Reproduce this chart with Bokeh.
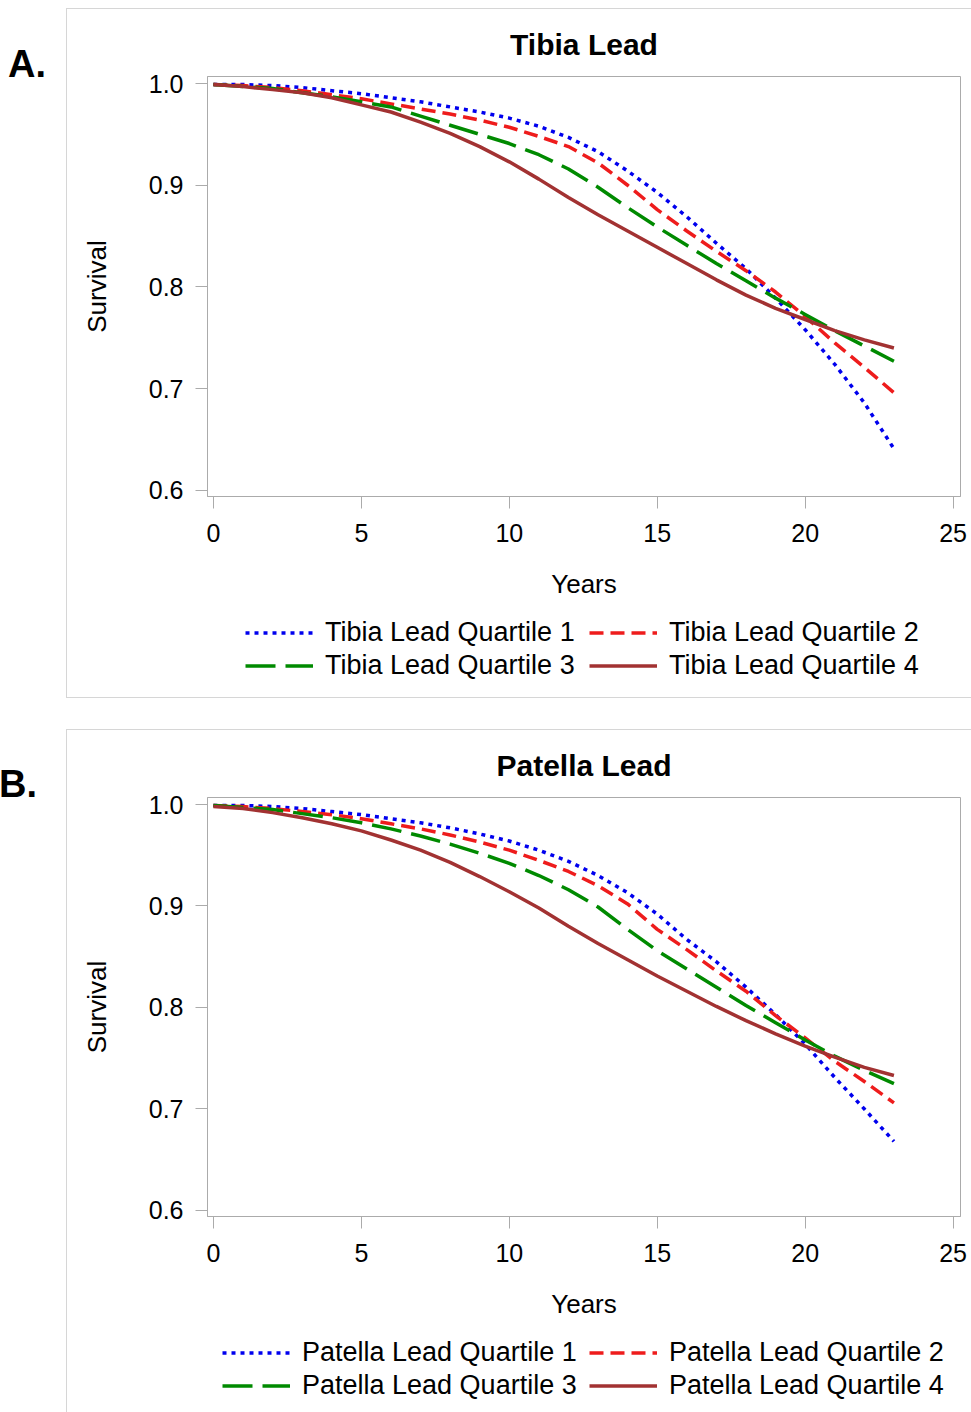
from bokeh.plotting import figure
from bokeh.models import (Range1d, FixedTicker, NumeralTickFormatter, Legend, LegendItem,
                          Spacer, Div)
from bokeh.layouts import row, column
from bokeh.embed import file_html
from bokeh.resources import INLINE

# ---------------- data ----------------
years = list(range(24))

tibia_q1 = [0.999, 0.999, 0.998, 0.996, 0.993, 0.990, 0.986, 0.982, 0.977, 0.972, 0.966, 0.958,
            0.947, 0.933, 0.914, 0.893, 0.869, 0.843, 0.818, 0.789, 0.758, 0.724, 0.686, 0.641]
tibia_q2 = [0.999, 0.998, 0.996, 0.993, 0.989, 0.985, 0.980, 0.975, 0.970, 0.964, 0.957, 0.948,
            0.938, 0.922, 0.900, 0.876, 0.855, 0.835, 0.816, 0.795, 0.771, 0.745, 0.721, 0.696]
tibia_q3 = [0.999, 0.997, 0.995, 0.991, 0.987, 0.982, 0.977, 0.968, 0.959, 0.950, 0.941, 0.930,
            0.916, 0.898, 0.878, 0.859, 0.841, 0.823, 0.806, 0.789, 0.773, 0.757, 0.742, 0.727]
tibia_q4 = [0.999, 0.997, 0.994, 0.991, 0.986, 0.979, 0.972, 0.962, 0.951, 0.938, 0.923, 0.906,
            0.888, 0.871, 0.855, 0.839, 0.823, 0.807, 0.792, 0.779, 0.768, 0.757, 0.748, 0.740]

patella_q1 = [0.999, 0.999, 0.998, 0.996, 0.993, 0.990, 0.986, 0.982, 0.977, 0.971, 0.964, 0.955,
              0.944, 0.930, 0.913, 0.892, 0.867, 0.845, 0.820, 0.793, 0.764, 0.731, 0.700, 0.668]
patella_q2 = [0.999, 0.998, 0.996, 0.993, 0.990, 0.986, 0.981, 0.976, 0.970, 0.963, 0.955, 0.945,
              0.934, 0.920, 0.902, 0.877, 0.857, 0.836, 0.816, 0.792, 0.770, 0.747, 0.727, 0.706]
patella_q3 = [0.999, 0.997, 0.995, 0.991, 0.987, 0.982, 0.976, 0.969, 0.961, 0.952, 0.942, 0.930,
              0.916, 0.899, 0.877, 0.856, 0.838, 0.820, 0.802, 0.785, 0.768, 0.752, 0.738, 0.725]
patella_q4 = [0.998, 0.996, 0.992, 0.987, 0.981, 0.974, 0.965, 0.955, 0.943, 0.929, 0.914, 0.898,
              0.880, 0.863, 0.847, 0.831, 0.816, 0.801, 0.787, 0.774, 0.762, 0.751, 0.741, 0.733]

tibia_names = ["Tibia Lead Quartile 1", "Tibia Lead Quartile 2",
               "Tibia Lead Quartile 3", "Tibia Lead Quartile 4"]
patella_names = ["Patella Lead Quartile 1", "Patella Lead Quartile 2",
                 "Patella Lead Quartile 3", "Patella Lead Quartile 4"]

x_ticks = [0, 5, 10, 15, 20, 25]
y_ticks = [0.6, 0.7, 0.8, 0.9, 1.0]

# ---------------- style ----------------
FONT = "Liberation Sans"
COLORS = ["#0000EE", "#EE1C1C", "#008A00", "#A23232"]
DASHES = ["4 5", "14 7", "30 10", "solid"]
FRAME_GRAY = "#ababab"
PANEL_GRAY = "#d6d6d6"


def make_plot(title, series, height, frame_h):
    p = figure(width=904, height=height, output_backend="svg", toolbar_location=None,
               x_range=Range1d(-0.2, 25.25), y_range=Range1d(0.594, 1.0069),
               min_border_left=140, min_border_right=11, min_border_top=67,
               min_border_bottom=height - 67 - frame_h, title=title)
    p.background_fill_color = "white"
    p.border_fill_color = "white"
    p.outline_line_color = FRAME_GRAY
    p.outline_line_width = 1
    p.grid.visible = False

    p.title.align = "center"
    p.title.text_font = FONT
    p.title.text_font_size = "30px"
    p.title.text_font_style = "bold"
    p.title.text_color = "black"
    p.title.standoff = 31

    for ax in (p.xaxis[0], p.yaxis[0]):
        ax.axis_line_color = FRAME_GRAY
        ax.major_tick_line_color = FRAME_GRAY
        ax.major_tick_out = 12
        ax.major_tick_in = 0
        ax.minor_tick_line_color = None
        ax.major_label_text_font = FONT
        ax.major_label_text_font_size = "25px"
        ax.major_label_text_color = "black"
        ax.axis_label_text_font = FONT
        ax.axis_label_text_font_size = "26px"
        ax.axis_label_text_font_style = "normal"
        ax.axis_label_text_color = "black"

    p.xaxis.ticker = FixedTicker(ticks=x_ticks)
    p.yaxis.ticker = FixedTicker(ticks=y_ticks)
    p.yaxis.formatter = NumeralTickFormatter(format="0.0")
    p.xaxis.axis_label = "Years"
    p.yaxis.axis_label = "Survival"
    p.xaxis.major_label_standoff = 15
    p.yaxis.major_label_standoff = 12
    p.xaxis.axis_label_standoff = 24
    p.yaxis.axis_label_standoff = 34

    for ys, c, d in zip(series, COLORS, DASHES):
        p.line(years, ys, line_color=c, line_width=3.5, line_dash=d, line_join="round")
    return p


def make_legend(names, series, height, loc, label_width):
    # legend strip below the plot; its lines lie outside the (empty) view on purpose
    f = figure(width=904, height=height, output_backend="svg", toolbar_location=None,
               x_range=Range1d(100, 101), y_range=Range1d(100, 101),
               min_border_left=140, min_border_top=0, min_border_right=11,
               min_border_bottom=0)
    f.xaxis.visible = False
    f.yaxis.visible = False
    f.grid.visible = False
    f.outline_line_color = None
    f.background_fill_color = "white"
    f.border_fill_color = "white"
    items = []
    for name, ys, c, d in zip(names, series, COLORS, DASHES):
        r = f.line(years, ys, line_color=c, line_width=3.5, line_dash=d)
        items.append(LegendItem(label=name, renderers=[r]))
    leg = Legend(items=items, location=loc, orientation="horizontal", ncols=2,
                 glyph_width=68, glyph_height=31, label_height=31, label_width=label_width,
                 label_standoff=12, spacing=2, padding=0, margin=0,
                 border_line_color=None, background_fill_alpha=0,
                 label_text_font=FONT, label_text_font_size="27px", label_text_color="black")
    f.add_layout(leg)
    return f


def letter(text, height, dx, dy):
    html = (f'<div style="position:relative; left:{dx}px; top:{dy}px; '
            "font-family:'Liberation Sans', Arial, sans-serif; font-size:38px; "
            f'font-weight:bold; line-height:38px; color:black;">{text}</div>')
    return Div(text=html, width=66, height=height, margin=0)


border = "1px solid " + PANEL_GRAY

tibia_series = [tibia_q1, tibia_q2, tibia_q3, tibia_q4]
patella_series = [patella_q1, patella_q2, patella_q3, patella_q4]

# plot: 601 px high (frame 420); legend strip: 87 px, legend 64 px high placed at its top
pA = make_plot("Tibia Lead", tibia_series, 601, 420)
gA = make_legend(tibia_names, tibia_series, 87, (38, 16), 262)
boxA = column(pA, gA, spacing=0,
              styles={"border-top": border, "border-left": border, "border-bottom": border})

pB = make_plot("Patella Lead", patella_series, 600, 419)
gB = make_legend(patella_names, patella_series, 82, (15, 11), 285)
boxB = column(pB, gB, spacing=0, styles={"border-top": border, "border-left": border})

lA = letter("A.", 690, 8, 37)
lB = letter("B.", 683, -1, 36)

layout = column(Spacer(width=10, height=8), row(lA, boxA, spacing=0),
                Spacer(width=10, height=31), row(lB, boxB, spacing=0), spacing=0)

open("out.html", "w").write(file_html(layout, INLINE))
